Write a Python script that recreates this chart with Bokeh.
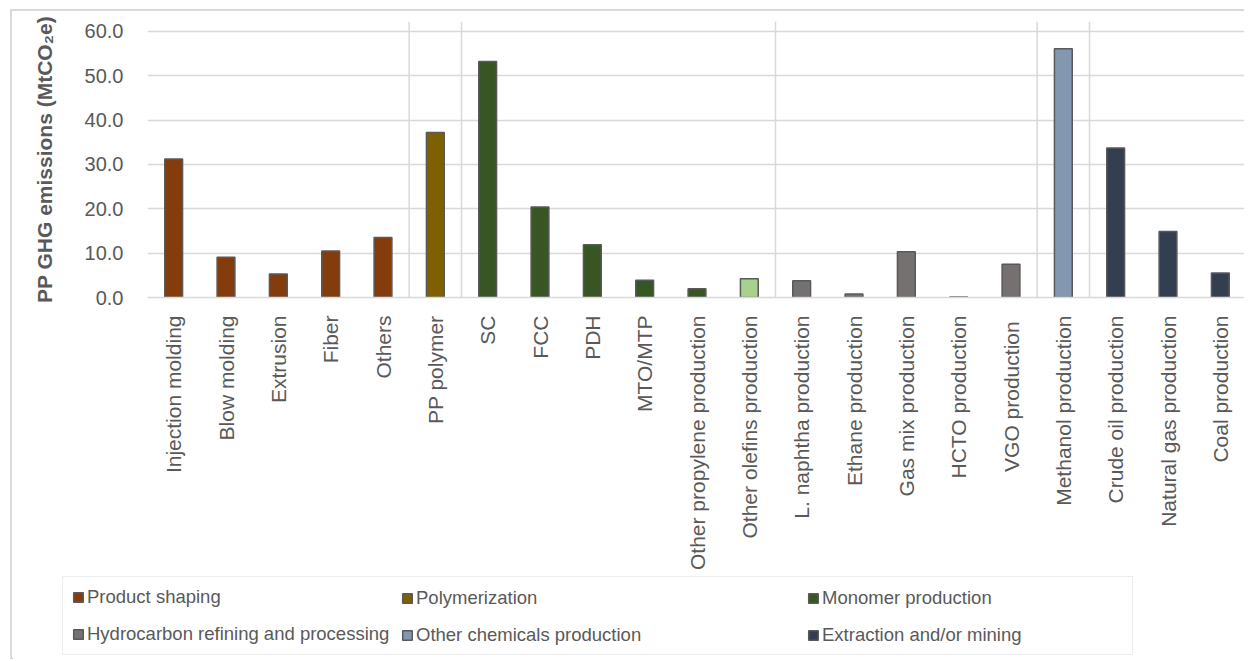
import math
from bokeh.plotting import figure
from bokeh.models import (FactorRange, Range1d, Span, Legend, LegendItem,
                          ColumnDataSource, NumeralTickFormatter, FixedTicker)
from bokeh.embed import file_html
from bokeh.resources import INLINE

# ---------------- data ----------------
categories = ["Injection molding", "Blow molding", "Extrusion", "Fiber", "Others",
              "PP polymer", "SC", "FCC", "PDH", "MTO/MTP",
              "Other propylene production", "Other olefins production",
              "L. naphtha production", "Ethane production", "Gas mix production",
              "HCTO production", "VGO  production", "Methanol production",
              "Crude oil production", "Natural gas production", "Coal production"]
values = [31.2, 9.1, 5.3, 10.5, 13.5,
          37.2, 53.2, 20.4, 11.9, 3.9,
          2.0, 4.2,
          3.8, 0.8, 10.3,
          0.1, 7.5, 56.1,
          33.7, 14.9, 5.5]
stages = ["Product shaping"] * 5 + ["Polymerization"] + ["Monomer production"] * 6 + \
         ["Hydrocarbon refining and processing"] * 5 + ["Other chemicals production"] + \
         ["Extraction and/or mining"] * 3
stage_order = ["Product shaping", "Polymerization", "Monomer production",
               "Hydrocarbon refining and processing", "Other chemicals production",
               "Extraction and/or mining"]
stage_colors = {"Product shaping": "#843C0C", "Polymerization": "#7F6000",
                "Monomer production": "#375623",
                "Hydrocarbon refining and processing": "#767171",
                "Other chemicals production": "#8497B0",
                "Extraction and/or mining": "#333F50"}
color_override = {"Other olefins production": "#A9D18E"}
y_ticks = [0, 10, 20, 30, 40, 50, 60]
legend_columns = [["Product shaping", "Hydrocarbon refining and processing"],
                  ["Polymerization", "Other chemicals production"],
                  ["Monomer production", "Extraction and/or mining"]]

FONT = "Liberation Sans"
TXT = "#595959"
GRID = "#D9D9D9"
W = 1234

p = figure(x_range=FactorRange(*categories), y_range=Range1d(0, 62.22),
           width=W, height=561, output_backend="svg", toolbar_location=None,
           min_border_left=135, min_border_right=0, min_border_top=10,
           min_border_bottom=271, margin=(9, 0, 0, 10),
           styles={"border-left": "2px solid #D9D9D9", "border-top": "2px solid #D9D9D9",
                   "vertical-align": "top"})
p.outline_line_color = None

for st in stage_order:
    xs = [c for c, s in zip(categories, stages) if s == st]
    tops = [v for v, s in zip(values, stages) if s == st]
    cols = [color_override.get(c, stage_colors[st]) for c in xs]
    src = ColumnDataSource(dict(x=xs, top=tops, color=cols))
    p.vbar(x="x", top="top", width=0.34, source=src,
           fill_color="color", line_color="#595959", line_width=1.5)

# group separators
for i in range(1, len(stages)):
    if stages[i] != stages[i - 1]:
        p.add_layout(Span(location=i, dimension="height", line_color=GRID, line_width=1.5))

# axes
p.yaxis.ticker = FixedTicker(ticks=y_ticks)
p.yaxis.formatter = NumeralTickFormatter(format="0.0")
p.yaxis.axis_line_color = None
p.yaxis.major_tick_line_color = None
p.yaxis.minor_tick_line_color = None
p.yaxis.major_label_text_font = FONT
p.yaxis.major_label_text_font_size = "20px"
p.yaxis.major_label_text_color = TXT
p.yaxis.major_label_standoff = 18
p.yaxis.axis_label = "PP GHG emissions (MtCO\u2082e)"
p.yaxis.axis_label_text_font = FONT
p.yaxis.axis_label_text_font_size = "21px"
p.yaxis.axis_label_text_font_style = "bold"
p.yaxis.axis_label_text_color = TXT
p.yaxis.axis_label_standoff = 26

p.xaxis.axis_line_color = GRID
p.xaxis.axis_line_width = 1.5
p.xaxis.major_tick_line_color = None
p.xaxis.minor_tick_line_color = None
p.xaxis.major_label_orientation = math.pi / 2
p.xaxis.major_label_text_font = FONT
p.xaxis.major_label_text_font_size = "21px"
p.xaxis.major_label_text_color = TXT
p.xaxis.major_label_standoff = 12

p.xgrid.grid_line_color = None
p.ygrid.grid_line_color = GRID
p.ygrid.grid_line_width = 1.5

# legend strip (separate figure, only the legend)
p2 = figure(width=W, height=89, output_backend="svg", toolbar_location=None,
            x_range=Range1d(0, 1), y_range=Range1d(0, 1),
            x_axis_location=None, y_axis_location=None,
            min_border_left=0, min_border_right=0, min_border_top=0, min_border_bottom=0,
            margin=(0, 0, 0, 10),
            styles={"border-left": "2px solid #D9D9D9", "vertical-align": "top"})
p2.outline_line_color = None
p2.grid.visible = False
swatch = {}
for st in stage_order:
    # legend-only renderer, placed outside the visible range
    swatch[st] = p2.vbar(x=[-5], top=[-5], width=0.1, fill_color=stage_colors[st],
                         line_color="#595959", line_width=1.5)

def make_legend(items, loc, label_width, border):
    lg = Legend(items=[LegendItem(label=s, renderers=[swatch[s]]) for s in items],
                location=loc, orientation="vertical", margin=0, padding=9, spacing=15,
                glyph_width=12, glyph_height=12, label_standoff=3, label_height=22,
                label_width=label_width, label_text_font=FONT,
                label_text_font_size="18.5px", label_text_color=TXT,
                border_line_color=GRID if border else None, border_line_width=1.5,
                background_fill_alpha=1.0 if border else 0.0)
    p2.add_layout(lg, "center")

make_legend(legend_columns[0], (50, 4), 1036, True)
make_legend(legend_columns[1], (389, 13), 0, False)
make_legend(legend_columns[2], (795, 13), 0, False)

open("out.html", "w").write(file_html([p, p2], INLINE))
